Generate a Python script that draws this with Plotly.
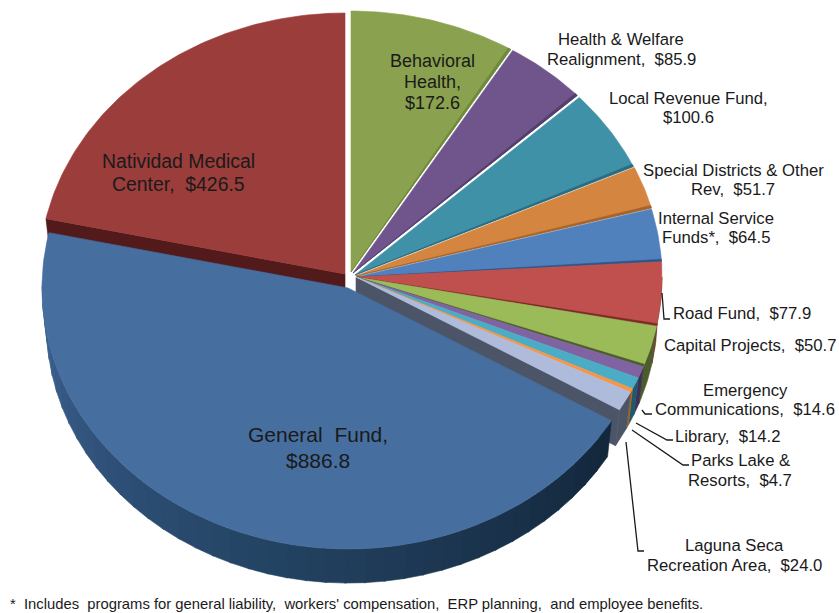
import numpy as np
import plotly.graph_objects as go

# ---- data (clockwise from 12 o'clock) ----
categories = ["Behavioral Health", "Health & Welfare Realignment", "Local Revenue Fund",
              "Special Districts & Other Rev", "Internal Service Funds*", "Road Fund",
              "Capital Projects", "Emergency Communications", "Library",
              "Parks Lake & Resorts", "Laguna Seca Recreation Area", "General Fund",
              "Natividad Medical Center"]
values = [172.6, 85.9, 100.6, 51.7, 64.5, 77.9, 50.7, 14.6, 14.2, 4.7, 24.0, 886.8, 426.5]
top_colors = ["#8aa24f", "#70558d", "#3f91a8", "#d4853f", "#5081bd", "#c0504d", "#9bbb59",
              "#8064a2", "#4bacc6", "#f79646", "#aebbdb", "#466e9f", "#9a3d3b"]
side_colors = ["#6f8a3a", "#54406c", "#2c6b80", "#a5642c", "#2f5688", "#7c2a28", "#4c5c2b",
               "#3f3056", "#1f5a6c", "#a85f1f", "#4c5568", "#1c3550", "#521a1a"]
label_lines = [["Behavioral", "Health,", "$172.6"],
               ["Health & Welfare", "Realignment,\u00a0 $85.9"],
               ["Local Revenue Fund,", "$100.6"],
               ["Special Districts & Other", "Rev,\u00a0 $51.7"],
               ["Internal Service", "Funds*,\u00a0 $64.5"],
               ["Road Fund,\u00a0 $77.9"],
               ["Capital Projects,\u00a0 $50.7"],
               ["Emergency", "Communications,\u00a0 $14.6"],
               ["Library,\u00a0 $14.2"],
               ["Parks Lake &", "Resorts,\u00a0 $4.7"],
               ["Laguna Seca", "Recreation Area,\u00a0 $24.0"],
               ["General\u00a0 Fund,", "$886.8"],
               ["Natividad Medical", "Center,\u00a0 $426.5"]]
footnote = ("*\u00a0 Includes\u00a0 programs for general liability,\u00a0 workers' compensation,\u00a0 "
            "ERP planning,\u00a0 and employee benefits.")

# ---- layout of the pie (screen-pixel axes) ----
A, B, DEPTH = 306, 261, 38
CENTERS = {11: (348, 288), 12: (345, 274), 0: (351, 272), 1: (353, 273), 2: (355, 275), 3: (356, 276)}
DEFAULT_CENTER = (356, 277)
label_pos = [(432, [61, 82, 103], "center"), (621, [39, 59], "center"), (688, [98, 117], "center"),
             (733, [170, 189], "center"), (716, [218, 237], "center"), (671, [313], "left"),
             (662, [345], "left"), (745, [390, 409], "center"), (673, [436], "left"),
             (740, [460, 480], "center"), (734, [545, 565], "center"), (318, [434, 460], "center"),
             (178, [161, 184], "center")]
label_sizes = {0: 18, 11: 21, 12: 19.4}
leaders = [[(662, 293), (664, 319), (670, 319)],
           [(642, 410), (645, 414), (652, 414)],
           [(636, 423), (667, 440), (673, 440)],
           [(632, 430), (683, 465), (689, 465)],
           [(626, 442), (638, 551), (644, 551)]]

fractions = np.array(values) / sum(values)
ends = np.cumsum(fractions) * 360
starts = np.concatenate([[0], ends[:-1]])


def rim(c, a0, a1, dy=0.0, k=1.0):
    n = max(2, int(abs(a1 - a0)) + 2)
    t = np.radians(np.linspace(a0, a1, n))
    return c[0] + k * A * np.sin(t), c[1] + dy - k * B * np.cos(t)


def poly(fig, x, y, color):
    fig.add_trace(go.Scatter(x=np.append(x, x[0]), y=np.append(y, y[0]), mode="lines", fill="toself",
                             fillcolor=color, line=dict(color=color, width=0.6),
                             hoverinfo="skip", showlegend=False))


def center(i):
    return CENTERS.get(i, DEFAULT_CENTER)


def side(fig, i, a0, a1, color):
    c = center(i)
    x0, y0 = rim(c, a0, a1)
    x1, y1 = rim(c, a1, a0, DEPTH, 0.985)
    poly(fig, np.concatenate([x0, x1]), np.concatenate([y0, y1]), color)


def wall(fig, i, a, color):
    c = center(i)
    rx, ry = rim(c, a, a)
    bx, by = rim(c, a, a, DEPTH, 0.985)
    poly(fig, np.array([c[0], rx[0], bx[0], c[0]]), np.array([c[1], ry[0], by[0], c[1] + DEPTH]), color)


def hexmix(stops, f):
    pts = [tuple(int(s[j:j + 2], 16) for j in (1, 3, 5)) for s in stops]
    p = f * (len(pts) - 1)
    i = min(int(p), len(pts) - 2)
    u = p - i
    return "#%02x%02x%02x" % tuple(int(pts[i][k] * (1 - u) + pts[i + 1][k] * u) for k in range(3))


fig = go.Figure()

# back walls
wall(fig, 12, starts[12], side_colors[12])
wall(fig, 10, ends[10], side_colors[10])

# rim sides of the small slices on the right
for i in range(5, 11):
    a0 = max(starts[i], 90)
    side(fig, i, a0, ends[i], side_colors[i])

# rim side of the large slice, shaded along the arc
seg = np.linspace(starts[11], ends[11] if ends[11] < 270 else 270, 41)
stops = ["#14283c", "#1c3550", "#244463", "#2f5078", "#3d6290"]
for j in range(len(seg) - 1):
    side(fig, 11, seg[j], seg[j + 1] + 0.3, hexmix(stops, j / (len(seg) - 2)))

# tops
for i in [12] + list(range(0, 11)) + [11]:
    c = center(i)
    x, y = rim(c, starts[i], ends[i])
    poly(fig, np.concatenate([[c[0]], x]), np.concatenate([[c[1]], y]), top_colors[i])
    if i <= 6:
        xe, ye = rim(c, ends[i] - 0.55, ends[i])
        poly(fig, np.concatenate([[c[0]], xe]), np.concatenate([[c[1]], ye]), side_colors[i])

# leader lines
for pts in leaders:
    fig.add_trace(go.Scatter(x=[p[0] for p in pts], y=[p[1] for p in pts], mode="lines",
                             line=dict(color="#1a1a1a", width=1.3), hoverinfo="skip", showlegend=False))

# labels
for i, lines in enumerate(label_lines):
    lx, ys, al = label_pos[i]
    for line, ly in zip(lines, ys):
        fig.add_annotation(x=lx, y=ly, text=line, showarrow=False, xanchor=al, yanchor="middle",
                           font=dict(family="Liberation Sans", size=label_sizes.get(i, 16.7),
                                     color="#1a1a1a"))
fig.add_annotation(x=8, y=604, text=footnote, showarrow=False, xanchor="left", yanchor="middle",
                   font=dict(family="Liberation Sans", size=14.8, color="#1a1a1a"))

fig.update_layout(width=839, height=613, margin=dict(l=0, r=0, t=0, b=0),
                  paper_bgcolor="white", plot_bgcolor="white", showlegend=False,
                  xaxis=dict(range=[0, 839], visible=False, fixedrange=True),
                  yaxis=dict(range=[613, 0], visible=False, fixedrange=True))
fig.write_html("out.html", config={"displayModeBar": False},
               post_script="document.body.style.margin='0';document.documentElement.style.overflow='hidden';")
